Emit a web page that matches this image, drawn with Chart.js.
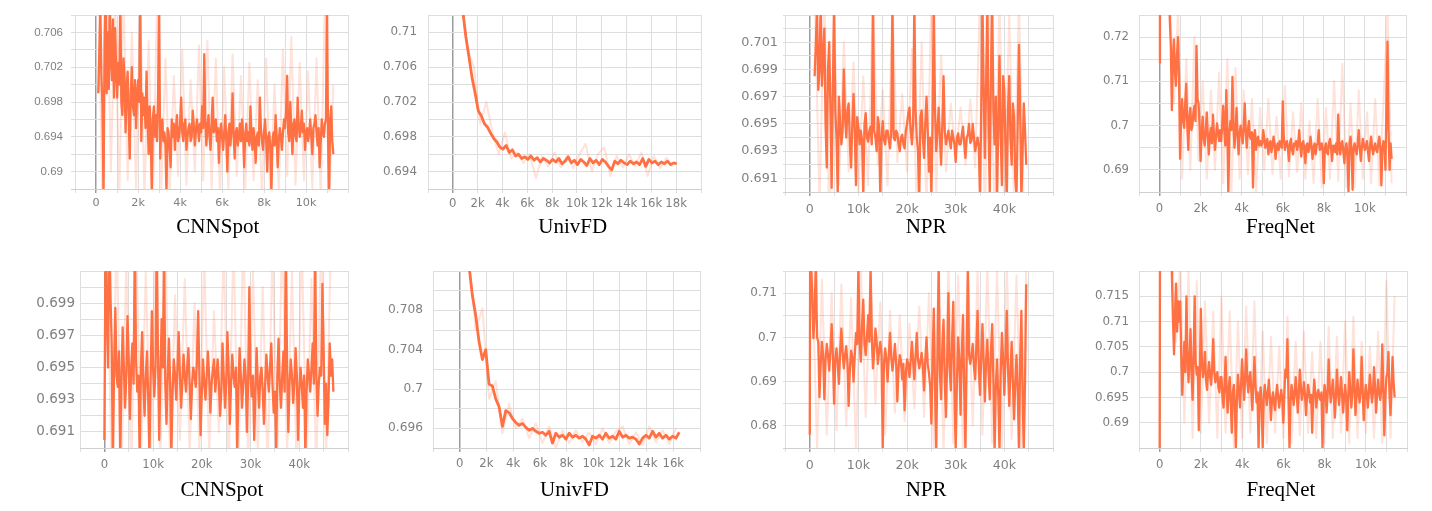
<!DOCTYPE html>
<html>
<head>
<meta charset="utf-8">
<script src="https://cdn.jsdelivr.net/npm/chart.js@4.4.0/dist/chart.umd.min.js"></script>
<style>
    body { margin: 0; width: 1432px; height: 511px; background: #fff; position: relative; overflow: hidden; }
    canvas { position: absolute; }
    .title {
        position: absolute;
        font-family: 'Liberation Serif', 'Times New Roman', serif;
        font-size: 21px;
        line-height: 21px;
        color: #000;
        white-space: nowrap;
        transform: translateX(-50%);
    }
</style>
</head>
<body>
<canvas id="c1"></canvas><canvas id="c2"></canvas><canvas id="c3"></canvas><canvas id="c4"></canvas>
<canvas id="c5"></canvas><canvas id="c6"></canvas><canvas id="c7"></canvas><canvas id="c8"></canvas>
<script>
// ---- data (steps, loss values) ----

// CNNSpot, top row: smoothed every 50 steps from 100, raw every 200 steps from 100
const cnnTopSmooth = [
    0.6990, 0.7040, 0.7085, 0.7010, 0.6975, 0.6870, 0.7050, 0.7120, 0.6990, 0.7060,
    0.6995, 0.7100, 0.7030, 0.7005, 0.7075, 0.6985, 0.7065, 0.7020, 0.6985,
    0.7025, 0.7000, 0.7095, 0.6980, 0.6965, 0.7030, 0.7010, 0.6945, 0.6995, 0.7015,
    0.6960, 0.6915, 0.6990, 0.7020, 0.6975, 0.6965, 0.7005, 0.6950, 0.6990, 0.7005,
    0.6980, 0.7095, 0.6935, 0.6990, 0.6965, 0.6985, 0.6950, 0.7015, 0.6960, 0.6920,
    0.6975, 0.6945, 0.6875, 0.6960, 0.6975, 0.6940, 0.6965, 0.6935, 0.6990, 0.7090,
    0.6915, 0.6955, 0.6960, 0.6935, 0.6945, 0.6930, 0.6875, 0.6950, 0.6945, 0.6925,
    0.6905, 0.6960, 0.6940, 0.6955, 0.6925, 0.6950, 0.6965, 0.6935, 0.6940, 0.6955,
    0.6985, 0.6945, 0.6935, 0.6955, 0.6960, 0.6925, 0.6940, 0.6950, 0.6955, 0.6935,
    0.6940, 0.6970, 0.6955, 0.6930, 0.6945, 0.6960, 0.6950, 0.6935, 0.6955, 0.6945,
    0.6975, 0.6950, 0.7035, 0.6960, 0.6930, 0.6950, 0.6965, 0.6940, 0.6925, 0.6955,
    0.6985, 0.6945, 0.6950, 0.6960, 0.6935, 0.6950, 0.6910, 0.6945, 0.6955, 0.6940,
    0.6925, 0.6945, 0.6965, 0.6935, 0.6900, 0.6945, 0.6955, 0.6930, 0.6950, 0.6990,
    0.6940, 0.6915, 0.6945, 0.6950, 0.6930, 0.6940, 0.6955, 0.6935, 0.6960, 0.6945,
    0.6905, 0.6940, 0.6955, 0.6935, 0.6945, 0.6930, 0.6975, 0.6940, 0.6925, 0.6950,
    0.6935, 0.6910, 0.6940, 0.6945, 0.6930, 0.6985, 0.6950, 0.6935, 0.6925, 0.6945,
    0.6960, 0.6935, 0.6900, 0.6940, 0.6945, 0.6925, 0.6875, 0.6935, 0.6945, 0.6930,
    0.6965, 0.6940, 0.6905, 0.6935, 0.6950, 0.6940, 0.6925, 0.6945, 0.6960, 0.6950,
    0.6970, 0.7010, 0.6945, 0.6935, 0.6980, 0.6950, 0.6920, 0.6955, 0.6960, 0.6940,
    0.6935, 0.6985, 0.6955, 0.6940, 0.6950, 0.6970, 0.6945, 0.6955, 0.6925, 0.6945,
    0.6950, 0.6935, 0.6945, 0.6960, 0.6940, 0.6920, 0.6950, 0.6955, 0.6965, 0.6945,
    0.6930, 0.6950, 0.6905, 0.6935, 0.6960, 0.6945, 0.6940, 0.6955, 0.6960, 0.7090,
    0.6940, 0.6875, 0.6960, 0.6975, 0.6935, 0.6920
];
const cnnTopRaw = [
    0.7120, 0.6860, 0.7150, 0.6900, 0.7100, 0.6870, 0.7110, 0.6890, 0.7060, 0.6880,
    0.7095, 0.6870, 0.7050, 0.6860, 0.7100, 0.6880, 0.7030, 0.6870, 0.7010, 0.6895,
    0.7040, 0.6885, 0.7005, 0.6900, 0.7045, 0.6890, 0.7050, 0.6880, 0.7030, 0.6870,
    0.7020, 0.6880, 0.7035, 0.6895, 0.7010, 0.6875, 0.7025, 0.6890, 0.7005, 0.6870,
    0.7030, 0.6865, 0.7000, 0.6880, 0.7040, 0.6895, 0.7055, 0.6885, 0.7025, 0.6890,
    0.7015, 0.6880, 0.7030, 0.6870, 0.7100, 0.6860, 0.7000
];

// UnivFD, top row: smoothed every 250 steps from 800, raw every 500 steps from 700
const univTopSmooth = [
    0.7125, 0.7095, 0.7072, 0.7048, 0.7030, 0.7010, 0.7004, 0.6995, 0.6991, 0.6984,
    0.6978, 0.6974, 0.6968, 0.6966, 0.6970, 0.6962, 0.6965, 0.6958, 0.6960, 0.6955,
    0.6957, 0.6954, 0.6958, 0.6953, 0.6956, 0.6951, 0.6955, 0.6953, 0.6950, 0.6954,
    0.6951, 0.6955, 0.6949, 0.6952, 0.6957, 0.6950, 0.6953, 0.6948, 0.6954, 0.6951,
    0.6947, 0.6955, 0.6950, 0.6953, 0.6948, 0.6954, 0.6951, 0.6946, 0.6942, 0.6952,
    0.6949, 0.6953, 0.6950, 0.6948, 0.6952, 0.6949, 0.6951, 0.6948, 0.6955, 0.6946,
    0.6954, 0.6950, 0.6952, 0.6948, 0.6951, 0.6949, 0.6952, 0.6948, 0.6950, 0.6949
];
const univTopRaw = [
    0.7140, 0.7080, 0.7060, 0.6995, 0.7020, 0.6985, 0.6960, 0.6985, 0.6955, 0.6962,
    0.6950, 0.6960, 0.6932, 0.6958, 0.6946, 0.6962, 0.6945, 0.6958, 0.6944, 0.6960,
    0.6972, 0.6940, 0.6960, 0.6968, 0.6935, 0.6958, 0.6945, 0.6960, 0.6946, 0.6962,
    0.6935, 0.6958, 0.6944, 0.6956, 0.6946
];

// NPR, top row: smoothed every 250 steps from 1000, raw every 1000 steps from 1000
const nprTopSmooth = [
    0.6985, 0.7010, 0.7035, 0.6975, 0.6990, 0.7040, 0.6978, 0.7000, 0.7020, 0.6950,
    0.6918, 0.6990, 0.7010, 0.6960, 0.6903, 0.6975, 0.7040, 0.6960, 0.6940, 0.6898,
    0.6970, 0.6950, 0.6935, 0.6945, 0.6990, 0.6955, 0.6940, 0.6960, 0.6965, 0.6935,
    0.6918, 0.6950, 0.6972, 0.6945, 0.6905, 0.6955, 0.6948, 0.6935, 0.6945, 0.6938,
    0.6898, 0.6950, 0.6958, 0.6940, 0.6937, 0.6945, 0.6948, 0.6935, 0.7040, 0.6945,
    0.6940, 0.6930, 0.6955, 0.6948, 0.6895, 0.6940, 0.6952, 0.6938, 0.6935, 0.6945,
    0.6945, 0.6938, 0.6932, 0.6945, 0.7040, 0.6940, 0.6938, 0.6945, 0.6943, 0.6935,
    0.6930, 0.6940, 0.6942, 0.6935, 0.6932, 0.6945, 0.6950, 0.6958, 0.6962, 0.6945,
    0.6935, 0.6950, 0.7040, 0.6960, 0.6940, 0.6930, 0.6895, 0.6955, 0.6960, 0.6940,
    0.6925, 0.6950, 0.6970, 0.6945, 0.6915, 0.6940, 0.6897, 0.6950, 0.7040, 0.6960,
    0.6930, 0.6945, 0.6962, 0.6940, 0.6920, 0.6950, 0.6985, 0.6945, 0.6935, 0.6940,
    0.6945, 0.6938, 0.6932, 0.6945, 0.6940, 0.6935, 0.6922, 0.6940, 0.6943, 0.6935,
    0.6935, 0.6942, 0.6948, 0.6936, 0.6925, 0.6940, 0.6942, 0.6950, 0.6936, 0.6938,
    0.6950, 0.6940, 0.6930, 0.6935, 0.6940, 0.6933, 0.6895, 0.6960, 0.7040, 0.6975,
    0.6925, 0.6980, 0.7040, 0.6950, 0.6900, 0.6990, 0.7040, 0.6960, 0.6935, 0.6970,
    0.6895, 0.6950, 0.7000, 0.6940, 0.6905, 0.6985, 0.6975, 0.6930, 0.6895, 0.6960,
    0.6985, 0.6940, 0.6920, 0.6965, 0.6955, 0.6910, 0.6898, 0.6950, 0.7008, 0.6960,
    0.6895, 0.6930, 0.6965, 0.6945, 0.6920
];
const nprTopRaw = [
    0.7050, 0.6890, 0.7045, 0.6880, 0.7030, 0.6905, 0.7010, 0.6915, 0.6995, 0.6900,
    0.6985, 0.6905, 0.7045, 0.6920, 0.6975, 0.6905, 0.7040, 0.6922, 0.6972, 0.6915,
    0.7005, 0.6890, 0.7010, 0.6885, 0.7045, 0.6900, 0.7000, 0.6915, 0.6965, 0.6925,
    0.6962, 0.6920, 0.6968, 0.6918, 0.7045, 0.6885, 0.7045, 0.6880, 0.7040, 0.6885,
    0.7030, 0.6890, 0.7040, 0.6885
];

// FreqNet, top row: first logged steps, then smoothed every 50 steps from 500, raw every 200 from 500
const freqTopLeadSteps = [0, 20, 480];
const freqTopLeadVals = [0.7142, 0.7400, 0.7300];
const freqTopSmooth = [
    0.7240, 0.7180, 0.7035, 0.7150, 0.7195, 0.7120, 0.7090, 0.7160, 0.7200, 0.7110,
    0.6925, 0.7020, 0.7060, 0.7010, 0.6995, 0.7050, 0.7095, 0.7000, 0.6945, 0.7020,
    0.7040, 0.6990, 0.7000, 0.7030, 0.7045, 0.7010, 0.7180, 0.7060, 0.7050, 0.7000,
    0.6920, 0.6985, 0.7020, 0.6970, 0.6955, 0.6990, 0.7030, 0.6975, 0.6935, 0.6980,
    0.6995, 0.6960, 0.7025, 0.6980, 0.6945, 0.6975, 0.7005, 0.6985, 0.6965, 0.6990,
    0.6965, 0.7000, 0.7045, 0.6990, 0.6955, 0.7080, 0.6990, 0.6845, 0.6985, 0.7010,
    0.6990, 0.7110, 0.7000, 0.6950, 0.6990, 0.7040, 0.6975, 0.6935, 0.6985, 0.7000,
    0.6980, 0.6960, 0.7000, 0.7050, 0.6985, 0.6950, 0.6990, 0.7010, 0.6975, 0.6970,
    0.6985, 0.6860, 0.6975, 0.6990, 0.6945, 0.6970, 0.6975, 0.6955, 0.6965, 0.6955,
    0.6960, 0.6990, 0.6970, 0.6950, 0.6965, 0.6970, 0.6935, 0.6960, 0.6965, 0.6940,
    0.6955, 0.6975, 0.6960, 0.6925, 0.6950, 0.6960, 0.6945, 0.6965, 0.6955, 0.6950,
    0.7055, 0.6975, 0.6945, 0.6960, 0.6965, 0.6950, 0.6920, 0.6960, 0.6970, 0.6945,
    0.6935, 0.6960, 0.6955, 0.6965, 0.6945, 0.6960, 0.6990, 0.6955, 0.6930, 0.6960,
    0.6965, 0.6945, 0.6915, 0.6955, 0.6960, 0.6940, 0.6950, 0.6975, 0.6955, 0.6925,
    0.6950, 0.6960, 0.6935, 0.6955, 0.6960, 0.6990, 0.6945, 0.6950, 0.6960, 0.6940,
    0.6870, 0.6950, 0.6960, 0.6940, 0.6935, 0.6960, 0.6970, 0.6950, 0.6920, 0.6955,
    0.6955, 0.6940, 0.6960, 0.6935, 0.7025, 0.6950, 0.6935, 0.6960, 0.6965, 0.6940,
    0.6915, 0.6950, 0.6960, 0.6930, 0.6850, 0.6960, 0.6975, 0.6940, 0.6855, 0.6950,
    0.6960, 0.6945, 0.6935, 0.6960, 0.6990, 0.6950, 0.6920, 0.6950, 0.6970, 0.6955,
    0.6945, 0.6955, 0.6965, 0.6940, 0.6920, 0.6955, 0.6975, 0.6950, 0.6935, 0.6950,
    0.6960, 0.6945, 0.6940, 0.6960, 0.6975, 0.6950, 0.6865, 0.6945, 0.6965, 0.6955,
    0.6900, 0.7050, 0.7190, 0.6990, 0.6900, 0.6960, 0.6925
];
const freqTopRaw = [
    0.7300, 0.7050, 0.7260, 0.6880, 0.7150, 0.6900, 0.7200, 0.6920, 0.7100, 0.6880,
    0.7080, 0.6900, 0.7120, 0.6870, 0.7150, 0.6850, 0.7130, 0.6880, 0.7080, 0.6890,
    0.7060, 0.6850, 0.7040, 0.6900, 0.7060, 0.6890, 0.7020, 0.6880, 0.7090, 0.6885,
    0.7030, 0.6895, 0.7050, 0.6880, 0.7010, 0.6870, 0.7060, 0.6860, 0.7040, 0.6880,
    0.7100, 0.6875, 0.7140, 0.6860, 0.7050, 0.6860, 0.7080, 0.6880, 0.7030, 0.6870,
    0.7060, 0.6865, 0.7050, 0.7260, 0.6870
];

// CNNSpot, bottom row: smoothed every 250 steps from 250, raw every 1000 from 500
const cnnBotLeadSteps = [0];
const cnnBotLeadVals = [0.6905];
const cnnBotSmooth = [
    0.7030, 0.6985, 0.6950, 0.7040, 0.6995, 0.6965, 0.6890, 0.6950, 0.6987, 0.6945,
    0.6938, 0.6960, 0.6895, 0.6940, 0.6975, 0.6950, 0.6925, 0.6945, 0.6982, 0.6955,
    0.6918, 0.6950, 0.6965, 0.6940, 0.7030, 0.6955, 0.6935, 0.6945, 0.6892, 0.6950,
    0.6972, 0.6940, 0.6920, 0.6945, 0.6960, 0.6930, 0.6895, 0.6945, 0.6985, 0.6950,
    0.6932, 0.6950, 0.7030, 0.6960, 0.6905, 0.6945, 0.6980, 0.6950, 0.7025, 0.6940,
    0.6915, 0.6945, 0.6968, 0.6940, 0.6895, 0.6935, 0.6955, 0.6945, 0.6930, 0.6950,
    0.6972, 0.6945, 0.6925, 0.6940, 0.6958, 0.6945, 0.6935, 0.6950, 0.6962, 0.6940,
    0.6918, 0.6940, 0.6950, 0.6945, 0.6938, 0.6955, 0.6985, 0.6945, 0.6908, 0.6935,
    0.6955, 0.6940, 0.6930, 0.6945, 0.6960, 0.6945, 0.6922, 0.6940, 0.6948, 0.6955,
    0.6935, 0.6945, 0.6955, 0.6940, 0.6920, 0.6935, 0.6965, 0.6945, 0.6925, 0.6940,
    0.6972, 0.6950, 0.6915, 0.6940, 0.6958, 0.6945, 0.6938, 0.6950, 0.6898, 0.6935,
    0.6962, 0.6945, 0.6925, 0.6940, 0.6955, 0.6945, 0.6910, 0.6940, 0.7000, 0.6945,
    0.6932, 0.6945, 0.6905, 0.6935, 0.6962, 0.6940, 0.6925, 0.6945, 0.6950, 0.6935,
    0.6915, 0.6940, 0.6958, 0.6945, 0.6935, 0.6950, 0.6965, 0.6940, 0.6922, 0.6935,
    0.6898, 0.6945, 0.6968, 0.6940, 0.6925, 0.6945, 0.6960, 0.6935, 0.7030, 0.6950,
    0.6910, 0.6940, 0.6955, 0.6945, 0.6928, 0.6940, 0.6962, 0.6945, 0.6905, 0.6935,
    0.6950, 0.6940, 0.6925, 0.6945, 0.6895, 0.6935, 0.6955, 0.6945, 0.6935, 0.6950,
    0.6965, 0.6940, 0.7030, 0.6945, 0.6920, 0.6940, 0.6950, 0.6945, 0.7002, 0.6960,
    0.6915, 0.6940, 0.6908, 0.6930, 0.6965, 0.6945, 0.6955, 0.6935
];
const cnnBotRaw = [
    0.7040, 0.6880, 0.7035, 0.6885, 0.7015, 0.6880, 0.7035, 0.6890, 0.7010, 0.6885,
    0.7030, 0.6890, 0.7035, 0.6885, 0.6995, 0.6905, 0.7005, 0.6895, 0.6990, 0.6900,
    0.7020, 0.6895, 0.6985, 0.6910, 0.7025, 0.6885, 0.7030, 0.6885, 0.7035, 0.6890,
    0.7010, 0.6895, 0.7000, 0.6885, 0.7025, 0.6890, 0.7035, 0.6895, 0.7010, 0.6880,
    0.7030, 0.6890, 0.7005, 0.6885, 0.7035, 0.6890, 0.7030
];

// UnivFD, bottom row: smoothed every 250 steps from 700, raw every 500 from 700
const univBotSmooth = [
    0.7125, 0.7095, 0.7075, 0.7048, 0.7030, 0.7040, 0.7005, 0.7003, 0.6990, 0.6982,
    0.6962, 0.6978, 0.6976, 0.6970, 0.6966, 0.6963, 0.6965, 0.6961, 0.6958, 0.6960,
    0.6957, 0.6955, 0.6956, 0.6953, 0.6957, 0.6945, 0.6955, 0.6951, 0.6953, 0.6949,
    0.6955, 0.6951, 0.6953, 0.6950, 0.6952, 0.6949, 0.6943, 0.6952, 0.6950, 0.6953,
    0.6949, 0.6955, 0.6950, 0.6952, 0.6949, 0.6957, 0.6951, 0.6953, 0.6950, 0.6951,
    0.6949, 0.6944, 0.6950, 0.6953, 0.6950, 0.6957, 0.6951, 0.6955, 0.6950, 0.6953,
    0.6949, 0.6952, 0.6950, 0.6956
];
const univBotRaw = [
    0.7130, 0.7060, 0.7082, 0.6990, 0.7008, 0.6955, 0.6985, 0.6960, 0.6970, 0.6950,
    0.6965, 0.6945, 0.6962, 0.6940, 0.6958, 0.6945, 0.6958, 0.6946, 0.6956, 0.6944,
    0.6960, 0.6945, 0.6957, 0.6962, 0.6944, 0.6956, 0.6943, 0.6962, 0.6946, 0.6958,
    0.6944, 0.6960
];

// NPR, bottom row: smoothed every 250 steps from 250, raw every 1000 from 500
const nprBotLeadSteps = [0, 80];
const nprBotLeadVals = [0.6780, 0.7200];
const nprBotSmooth = [
    0.7170, 0.7100, 0.6998, 0.7050, 0.7180, 0.7000, 0.6990, 0.6865, 0.6940, 0.6990,
    0.6960, 0.6860, 0.6950, 0.6985, 0.6960, 0.6925, 0.6970, 0.7030, 0.6960, 0.6850,
    0.6950, 0.6975, 0.6940, 0.6895, 0.6970, 0.7020, 0.6965, 0.6930, 0.6960, 0.6980,
    0.6940, 0.6845, 0.6930, 0.6970, 0.6955, 0.6900, 0.6960, 0.7010, 0.6985, 0.7160,
    0.6990, 0.6945, 0.7030, 0.7085, 0.6985, 0.6960, 0.7000, 0.7050, 0.6990, 0.7160,
    0.7000, 0.6930, 0.6970, 0.7020, 0.6990, 0.6940, 0.6970, 0.6990, 0.6960, 0.6745,
    0.6940, 0.6975, 0.6950, 0.6900, 0.6960, 0.7010, 0.6955, 0.6925, 0.6950, 0.6985,
    0.6945, 0.6855, 0.6930, 0.6960, 0.6945, 0.6905, 0.6940, 0.6835, 0.6920, 0.6950,
    0.6940, 0.6910, 0.6950, 0.6990, 0.6945, 0.6905, 0.6960, 0.7010, 0.6950, 0.6930,
    0.6945, 0.6965, 0.6935, 0.6880, 0.6950, 0.7000, 0.6940, 0.6920, 0.6890, 0.6805,
    0.6950, 0.7065, 0.6880, 0.6745, 0.6960, 0.7160, 0.6920, 0.6860, 0.6980, 0.7040,
    0.6900, 0.6820, 0.6950, 0.7100, 0.6930, 0.6880, 0.6990, 0.7080, 0.6870, 0.6745,
    0.6900, 0.7000, 0.6950, 0.6825, 0.6960, 0.7050, 0.6880, 0.6745, 0.6950, 0.7160,
    0.6960, 0.6940, 0.6960, 0.6985, 0.6935, 0.6905, 0.6980, 0.7060, 0.6930, 0.6870,
    0.6960, 0.7030, 0.6940, 0.6855, 0.6950, 0.6995, 0.6920, 0.6860, 0.6970, 0.7030,
    0.6900, 0.6745, 0.6890, 0.6950, 0.6870, 0.6745, 0.6920, 0.7010, 0.6950, 0.6870,
    0.6960, 0.7060, 0.6930, 0.6845, 0.6920, 0.6990, 0.6900, 0.6815, 0.6900, 0.6960,
    0.6880, 0.6745, 0.6950, 0.7060, 0.6870, 0.6745, 0.6900, 0.7120
];
const nprBotRaw = [
    0.7170, 0.6745, 0.7130, 0.6780, 0.7100, 0.6790, 0.7120, 0.6800, 0.7090, 0.6745,
    0.7160, 0.6820, 0.7140, 0.6850, 0.7080, 0.6780, 0.7060, 0.6830, 0.7050, 0.6810,
    0.7030, 0.6840, 0.7070, 0.6820, 0.7100, 0.6745, 0.7160, 0.6745, 0.7160, 0.6760,
    0.7140, 0.6745, 0.7160, 0.6800, 0.7150, 0.6780, 0.7160, 0.6760, 0.7150, 0.6745,
    0.7160, 0.6770, 0.7140, 0.6745, 0.7160
];

// FreqNet, bottom row: first logged steps, then smoothed every 50 steps from 600, raw every 200 from 600
const freqBotLeadSteps = [0, 20, 560];
const freqBotLeadVals = [0.6800, 0.7300, 0.7250];
const freqBotSmooth = [
    0.7185, 0.7100, 0.7035, 0.7120, 0.7175, 0.7080, 0.7140, 0.7100,
    0.7140, 0.7030, 0.6955, 0.7010, 0.7060, 0.7000, 0.7150, 0.7040, 0.6980, 0.7020,
    0.7085, 0.7000, 0.6945, 0.7030, 0.7150, 0.7020, 0.6995, 0.7010, 0.6885, 0.6990,
    0.7125, 0.7020, 0.6990, 0.7005, 0.7040, 0.6985, 0.6965, 0.7000, 0.7020, 0.6990,
    0.6975, 0.7010, 0.7065, 0.7000, 0.6980, 0.6995, 0.7000, 0.6970, 0.6960, 0.6990,
    0.6990, 0.6950, 0.6930, 0.6975, 0.7030, 0.6960, 0.6920, 0.6970, 0.6990, 0.6940,
    0.6880, 0.6960, 0.6975, 0.6930, 0.6850, 0.6950, 0.6995, 0.6960, 0.6930, 0.6975,
    0.7025, 0.6980, 0.6945, 0.6990, 0.7045, 0.6985, 0.6960, 0.6990, 0.7000, 0.6960,
    0.6925, 0.6980, 0.7030, 0.6975, 0.6940, 0.6960, 0.6850, 0.6950, 0.6970, 0.6930,
    0.6850, 0.6950, 0.6975, 0.6955, 0.6935, 0.6960, 0.6985, 0.6950, 0.6905, 0.6945,
    0.6960, 0.6940, 0.6925, 0.6955, 0.6975, 0.6950, 0.6930, 0.6950, 0.6965, 0.6945,
    0.6900, 0.6960, 0.7005, 0.6990, 0.7065, 0.6950, 0.6850, 0.6940, 0.6975, 0.6960,
    0.6935, 0.6955, 0.6990, 0.6960, 0.6920, 0.6955, 0.7005, 0.6970, 0.6945, 0.6960,
    0.6980, 0.6955, 0.6915, 0.6950, 0.6975, 0.6960, 0.6940, 0.6955, 0.6880, 0.6950,
    0.6985, 0.6960, 0.6930, 0.6955, 0.6965, 0.6950, 0.6945, 0.6960, 0.6850, 0.6940,
    0.6975, 0.6960, 0.6920, 0.6955, 0.7025, 0.6970, 0.6940, 0.6960, 0.6985, 0.6955,
    0.6910, 0.6950, 0.7005, 0.6965, 0.6935, 0.6960, 0.6990, 0.6955, 0.6920, 0.6950,
    0.6975, 0.6950, 0.6885, 0.6950, 0.7000, 0.6965, 0.6930, 0.6960, 0.7045, 0.6975,
    0.6915, 0.6950, 0.6985, 0.6960, 0.6940, 0.6965, 0.7030, 0.6960, 0.6905, 0.6950,
    0.6975, 0.6955, 0.6930, 0.6960, 0.6995, 0.6965, 0.6940, 0.6960, 0.7010, 0.6970,
    0.6920, 0.6955, 0.6985, 0.6960, 0.6945, 0.6965, 0.7055, 0.6970, 0.6875, 0.6950,
    0.6990, 0.7000, 0.7040, 0.6960, 0.6915, 0.6970, 0.7030, 0.6980, 0.6950
];
const freqBotRaw = [
    0.7240, 0.7060, 0.7220, 0.6900, 0.7200, 0.6870, 0.7180, 0.6880, 0.7140, 0.6900,
    0.7120, 0.6870, 0.7150, 0.6880, 0.7120, 0.6850, 0.7100, 0.6870, 0.7130, 0.6880,
    0.7140, 0.6850, 0.7080, 0.6860, 0.7070, 0.6880, 0.7050, 0.6870, 0.7110, 0.6860,
    0.7060, 0.6875, 0.7080, 0.6880, 0.7040, 0.6870, 0.7060, 0.6860, 0.7090, 0.6870,
    0.7070, 0.6880, 0.7100, 0.6860, 0.7110, 0.6870, 0.7060, 0.6880, 0.7050, 0.6870,
    0.7080, 0.6860, 0.7180, 0.6870, 0.7150
];

// tick labels shown on each axis
const yLabelsCnnTop = ['0.706', '0.702', '0.698', '0.694', '0.69'];
const yLabelsUnivTop = ['0.71', '0.706', '0.702', '0.698', '0.694'];
const yLabelsNprTop = ['0.701', '0.699', '0.697', '0.695', '0.693', '0.691'];
const yLabelsFreqTop = ['0.72', '0.71', '0.7', '0.69'];
const yLabelsCnnBot = ['0.699', '0.697', '0.695', '0.693', '0.691'];
const yLabelsUnivBot = ['0.708', '0.704', '0.7', '0.696'];
const yLabelsNprBot = ['0.71', '0.7', '0.69', '0.68'];
const yLabelsFreqBot = ['0.715', '0.71', '0.705', '0.7', '0.695', '0.69'];

const xLabels12k = ['0', '2k', '4k', '6k', '8k', '10k'];
const xLabels18k = ['0', '2k', '4k', '6k', '8k', '10k', '12k', '14k', '16k', '18k'];
const xLabels16k = ['0', '2k', '4k', '6k', '8k', '10k', '12k', '14k', '16k'];
const xLabels40k = ['0', '10k', '20k', '30k', '40k'];

// ---- look ----
const LINE_COLOR = '#ff7043';
const RAW_COLOR = 'rgba(255, 112, 67, 0.2)';
const GRID_COLOR = '#dedede';
const ZERO_COLOR = '#9c9c9c';
const TICK_COLOR = '#7f7f7f';
const Y_W = 70, X_H = 30, PAD = 4;

function toPoints(start, step, values, leadSteps, leadVals) {
    const pts = [];
    (leadSteps || []).forEach((s, i) => pts.push({ x: s, y: leadVals[i] }));
    values.forEach((v, i) => pts.push({ x: start + i * step, y: v }));
    return pts;
}

function stepValue(label) {
    return label.endsWith('k') ? parseFloat(label) * 1000 : parseFloat(label);
}

// grid positions of an axis (every step inside [min, max])
function gridTicks(min, max, step) {
    const ticks = [];
    for (let v = Math.ceil(min / step - 1e-9) * step; v <= max + step * 1e-6; v += step) {
        ticks.push({ value: Math.round(v * 1e6) / 1e6 });
    }
    return ticks;
}

const panels = [
    { id: 'c1', title: 'CNNSpot', plot: [71, 15, 277, 174], x: [-1200, 12000, 1000], y: [0.688, 0.708, 0.002],
      smooth: toPoints(100, 50, cnnTopSmooth), raw: toPoints(100, 200, cnnTopRaw), lw: 2.3,
      xLabels: xLabels12k, yLabels: yLabelsCnnTop, yFont: ['Liberation Sans', 11.5], xFont: 11.2, yPad: 8, xPad: 3, titleTop: 216 },
    { id: 'c2', title: 'UnivFD', plot: [428, 15, 273, 174], x: [-2000, 20000, 2000], y: [0.692, 0.712, 0.002],
      smooth: toPoints(800, 250, univTopSmooth), raw: toPoints(700, 500, univTopRaw), lw: 2.8,
      xLabels: xLabels18k, yLabels: yLabelsUnivTop, yFont: ['DejaVu Sans', 11.9], xFont: 11.7, yPad: 11, xPad: 4, titleTop: 216 },
    { id: 'c3', title: 'NPR', plot: [783, 15, 270, 177], x: [-5500, 50000, 5000], y: [0.690, 0.703, 0.001],
      smooth: toPoints(1000, 250, nprTopSmooth), raw: toPoints(1000, 1000, nprTopRaw), lw: 2.3,
      xLabels: xLabels40k, yLabels: yLabelsNprTop, yFont: ['DejaVu Sans', 12.8], xFont: 12.6, yPad: 5, xPad: 6, titleTop: 216 },
    { id: 'c4', title: 'FreqNet', plot: [1139, 15, 267, 177], x: [-1000, 12000, 1000], y: [0.685, 0.725, 0.005],
      smooth: toPoints(500, 50, freqTopSmooth, freqTopLeadSteps, freqTopLeadVals), raw: toPoints(500, 200, freqTopRaw), lw: 2.3,
      xLabels: xLabels12k, yLabels: yLabelsFreqTop, yFont: ['DejaVu Sans', 11.7], xFont: 11.7, yPad: 10, xPad: 6, titleTop: 216 },
    { id: 'c5', title: 'CNNSpot', plot: [80, 271, 268, 177], x: [-5000, 50000, 5000], y: [0.690, 0.701, 0.001],
      smooth: toPoints(250, 250, cnnBotSmooth, cnnBotLeadSteps, cnnBotLeadVals), raw: toPoints(500, 1000, cnnBotRaw), lw: 2.3,
      xLabels: xLabels40k, yLabels: yLabelsCnnBot, yFont: ['DejaVu Sans', 13.5], xFont: 11.7, yPad: 5, xPad: 6, titleTop: 479 },
    { id: 'c6', title: 'UnivFD', plot: [433, 271, 267, 177], x: [-2000, 18000, 2000], y: [0.694, 0.712, 0.002],
      smooth: toPoints(700, 250, univBotSmooth), raw: toPoints(700, 500, univBotRaw), lw: 2.8,
      xLabels: xLabels16k, yLabels: yLabelsUnivBot, yFont: ['DejaVu Sans', 12.2], xFont: 11.7, yPad: 10, xPad: 5, titleTop: 479 },
    { id: 'c7', title: 'NPR', plot: [783, 271, 270, 177], x: [-5500, 50000, 5000], y: [0.675, 0.715, 0.005],
      smooth: toPoints(250, 250, nprBotSmooth, nprBotLeadSteps, nprBotLeadVals), raw: toPoints(500, 1000, nprBotRaw), lw: 2.3,
      xLabels: xLabels40k, yLabels: yLabelsNprBot, yFont: ['DejaVu Sans', 12], xFont: 12.6, yPad: 6, xPad: 6, titleTop: 479 },
    { id: 'c8', title: 'FreqNet', plot: [1139, 271, 268, 177], x: [-1000, 12000, 1000], y: [0.685, 0.720, 0.005],
      smooth: toPoints(600, 50, freqBotSmooth, freqBotLeadSteps, freqBotLeadVals), raw: toPoints(600, 200, freqBotRaw), lw: 2.3,
      xLabels: xLabels12k, yLabels: yLabelsFreqBot, yFont: ['DejaVu Sans', 11.9], xFont: 11.7, yPad: 10, xPad: 6, titleTop: 479 }
];

function buildPanel(p) {
    const [left, top, pw, ph] = p.plot;
    const w = pw + Y_W + PAD;
    const h = ph + X_H + PAD;
    const canvas = document.getElementById(p.id);
    canvas.width = w;
    canvas.height = h;
    canvas.style.left = (left - Y_W) + 'px';
    canvas.style.top = (top - PAD) + 'px';
    canvas.style.width = w + 'px';
    canvas.style.height = h + 'px';

    const title = document.createElement('div');
    title.className = 'title';
    title.textContent = p.title;
    title.style.left = (left + pw * 0.53) + 'px';
    title.style.top = p.titleTop + 'px';
    document.body.appendChild(title);

    new Chart(canvas.getContext('2d'), {
        type: 'line',
        data: {
            datasets: [
                { data: p.smooth, borderColor: LINE_COLOR, borderWidth: p.lw, order: 0, clip: 0 },
                { data: p.raw, borderColor: RAW_COLOR, borderWidth: 2, order: 1, clip: 0 }
            ]
        },
        options: {
            responsive: false,
            animation: false,
            elements: { point: { radius: 0 }, line: { tension: 0, borderJoinStyle: 'round' } },
            layout: { padding: { top: PAD, right: PAD, left: 0, bottom: 0 } },
            plugins: { legend: { display: false }, tooltip: { enabled: false } },
            scales: {
                x: {
                    type: 'linear',
                    min: p.x[0], max: p.x[1],
                    afterBuildTicks: (s) => { s.ticks = gridTicks(p.x[0], p.x[1], p.x[2]); },
                    afterFit: (s) => { s.height = X_H; s.paddingLeft = 0; s.paddingRight = 0; },
                    grid: {
                        color: (c) => c.tick && c.tick.value === 0 ? ZERO_COLOR : GRID_COLOR,
                        lineWidth: (c) => c.tick && c.tick.value === 0 ? 1.5 : 1,
                        tickLength: 4
                    },
                    border: { color: '#cfcfcf' },
                    ticks: {
                        autoSkip: false, maxRotation: 0, minRotation: 0, padding: p.xPad,
                        color: TICK_COLOR, font: { family: 'DejaVu Sans', size: p.xFont },
                        callback: (v) => p.xLabels.find((l) => stepValue(l) === v) || ''
                    }
                },
                y: {
                    min: p.y[0], max: p.y[1],
                    afterBuildTicks: (s) => { s.ticks = gridTicks(p.y[0], p.y[1], p.y[2]); },
                    afterFit: (s) => { s.width = Y_W; s.paddingTop = 0; s.paddingBottom = 0; },
                    grid: { color: GRID_COLOR, drawTicks: false },
                    border: { display: false },
                    ticks: {
                        autoSkip: false, padding: p.yPad,
                        color: TICK_COLOR, font: { family: p.yFont[0], size: p.yFont[1] },
                        callback: (v) => p.yLabels.find((l) => Math.abs(parseFloat(l) - v) < 1e-7) || ''
                    }
                }
            }
        }
    });
}

document.addEventListener('DOMContentLoaded', function() {
    panels.forEach(buildPanel);
});
</script>
</body>
</html>
